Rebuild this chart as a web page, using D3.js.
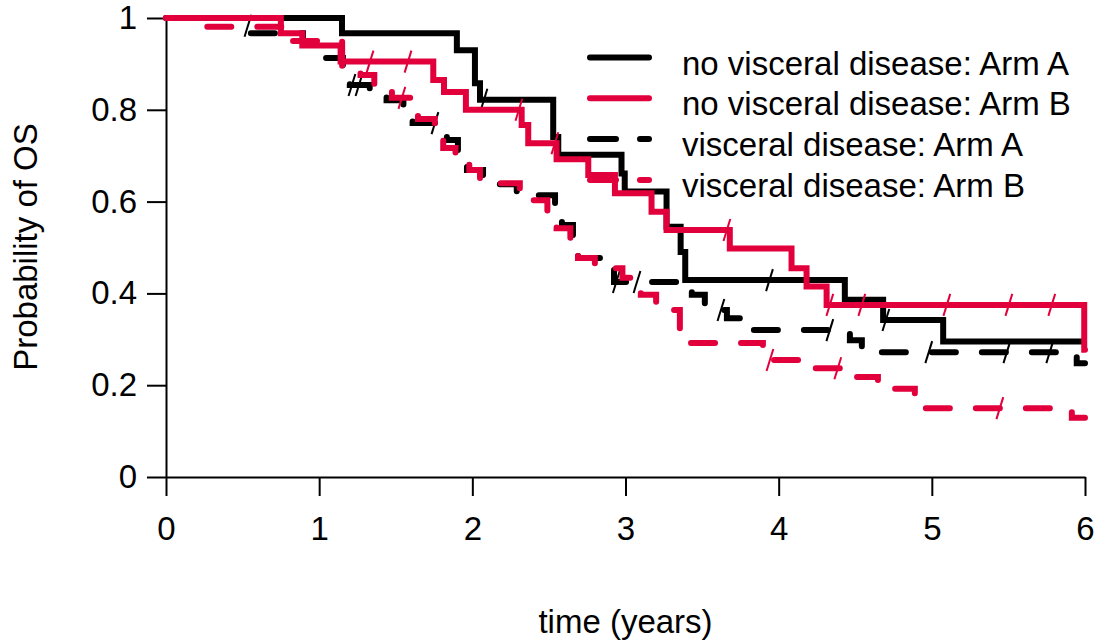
<!DOCTYPE html>
<html>
<head>
<meta charset="utf-8">
<script src="https://cdn.jsdelivr.net/npm/d3@7"></script>
<style>
  body { margin: 0; background: #fff; }
  text { font-family: "Liberation Sans", Arial, sans-serif; }
</style>
</head>
<body>
<div id="chart"></div>
<script>
// Kaplan-Meier steps: time (years) and survival after each step
const noViscA_time = [0, 1.149, 1.899, 2.017, 2.050, 2.528, 2.561, 2.974, 2.995, 3.268, 3.36, 3.39, 4.432, 4.682, 5.074];
const noViscA_surv = [1, 0.967, 0.930, 0.858, 0.822, 0.741, 0.702, 0.661, 0.622, 0.545, 0.49, 0.429, 0.386, 0.342, 0.295];
const noViscA_cens = [2.076, 3.94, 4.70];

const noViscB_time = [0, 0.75, 0.89, 1.14, 1.745, 1.815, 1.958, 2.322, 2.365, 2.550, 2.757, 2.931, 3.170, 3.268, 3.681, 4.084, 4.182, 4.313, 5.995];
const noViscB_surv = [1, 0.967, 0.94, 0.905, 0.865, 0.839, 0.80, 0.767, 0.727, 0.692, 0.658, 0.618, 0.578, 0.538, 0.498, 0.455, 0.415, 0.375, 0.277];
const noViscB_cens = [1.332, 1.58, 2.304, 2.539, 3.662, 4.334, 4.543, 5.098, 5.503, 5.783];

const viscA_time = [0, 0.50, 0.55, 0.894, 1.03, 1.155, 1.20, 1.33, 1.44, 1.55, 1.61, 1.77, 1.834, 1.906, 1.965, 2.07, 2.29, 2.54, 2.585, 2.657, 2.69, 2.846, 2.925, 3.433, 3.518, 3.662, 3.812, 4.465, 4.543, 5.946];
const viscA_surv = [1, 0.983, 0.967, 0.948, 0.913, 0.887, 0.854, 0.839, 0.821, 0.80, 0.771, 0.752, 0.734, 0.697, 0.669, 0.638, 0.614, 0.582, 0.549, 0.512, 0.477, 0.464, 0.425, 0.397, 0.364, 0.346, 0.32, 0.298, 0.272, 0.248];
const viscA_cens = [0.535, 1.214, 1.26, 1.756, 2.94, 3.075, 3.623, 4.334, 4.98, 5.49, 5.77];

const viscB_time = [0, 0.22, 0.81, 1.15, 1.27, 1.36, 1.475, 1.645, 1.755, 1.81, 1.89, 1.98, 2.05, 2.31, 2.40, 2.49, 2.55, 2.64, 2.69, 2.80, 2.98, 3.10, 3.20, 3.355, 3.897, 3.93, 4.138, 4.497, 4.648, 4.889, 5.914];
const viscB_surv = [1, 0.981, 0.95, 0.893, 0.876, 0.848, 0.826, 0.78, 0.752, 0.717, 0.69, 0.669, 0.64, 0.619, 0.603, 0.564, 0.542, 0.51, 0.477, 0.455, 0.434, 0.397, 0.364, 0.292, 0.27, 0.255, 0.237, 0.218, 0.192, 0.150, 0.129];
const viscB_cens = [1.54, 3.943, 4.386, 5.444];

const xTicks = [0, 1, 2, 3, 4, 5, 6];
const yTicks = [0, 0.2, 0.4, 0.6, 0.8, 1];

const BLACK = '#000';
const RED = '#e1003c';
const FONT = '33px';

const width = 1106, height = 643;
const margin = { left: 166, right: 21, top: 18, bottom: 166 };

const groups = [
  { label: 'no visceral disease: Arm A', time: noViscA_time, surv: noViscA_surv, cens: noViscA_cens, end: 5.99, color: BLACK, dashed: false },
  { label: 'no visceral disease: Arm B', time: noViscB_time, surv: noViscB_surv, cens: noViscB_cens, end: 6.0, color: RED, dashed: false },
  { label: 'visceral disease: Arm A', time: viscA_time, surv: viscA_surv, cens: viscA_cens, end: 6.0, color: BLACK, dashed: true },
  { label: 'visceral disease: Arm B', time: viscB_time, surv: viscB_surv, cens: viscB_cens, end: 6.0, color: RED, dashed: true }
];
// blacks underneath, reds on top
const drawOrder = [0, 2, 1, 3];

const svg = d3.select('#chart')
  .append('svg')
  .attr('width', width)
  .attr('height', height)
  .attr('viewBox', `0 0 ${width} ${height}`);

svg.append('rect').attr('width', width).attr('height', height).attr('fill', '#fff');

const x = d3.scaleLinear().domain([0, 6]).range([margin.left, width - margin.right]);
const y = d3.scaleLinear().domain([0, 1]).range([height - margin.bottom, margin.top]);

// Axes
const xAxis = svg.append('g')
  .attr('transform', `translate(0,${y(0)})`)
  .call(d3.axisBottom(x).tickValues(xTicks).tickSize(19).tickSizeOuter(0).tickPadding(21).tickFormat(d3.format('d')));

const yAxis = svg.append('g')
  .attr('transform', `translate(${x(0)},0)`)
  .call(d3.axisLeft(y).tickValues(yTicks).tickSize(19).tickSizeOuter(0).tickPadding(10).tickFormat(d3.format('~g')));

[xAxis, yAxis].forEach(a => {
  a.selectAll('path, line').attr('stroke', '#000').attr('stroke-width', 2);
  a.selectAll('text')
    .attr('fill', '#000')
    .style('font-size', FONT)
    .style('font-family', '"Liberation Sans", Arial, sans-serif');
});

// Axis titles
svg.append('text')
  .attr('x', (x(0) + x(6)) / 2)
  .attr('y', 633)
  .attr('text-anchor', 'middle')
  .attr('font-size', FONT)
  .attr('fill', '#000')
  .text('time (years)');

svg.append('text')
  .attr('transform', `translate(37,${247}) rotate(-90)`)
  .attr('text-anchor', 'middle')
  .attr('font-size', FONT)
  .attr('fill', '#000')
  .text('Probability of OS');

// Curves
const line = d3.line()
  .x(d => x(d[0]))
  .y(d => y(d[1]))
  .curve(d3.curveStepAfter);

const levelAt = (g, t) => g.surv[Math.max(0, d3.bisectRight(g.time, t) - 1)];

drawOrder.forEach(i => {
  const g = groups[i];
  const pts = g.time.map((t, k) => [t, g.surv[k]]);
  pts.push([g.end, g.surv[g.surv.length - 1]]);

  svg.append('path')
    .datum(pts)
    .attr('d', line)
    .attr('fill', 'none')
    .attr('stroke', g.color)
    .attr('stroke-width', 6)
    .attr('stroke-linecap', 'round')
    .attr('stroke-linejoin', 'miter')
    .attr('stroke-dasharray', g.dashed ? '24,26' : null);

  // censoring marks
  svg.append('g')
    .selectAll('line')
    .data(g.cens)
    .join('line')
    .attr('x1', t => x(t) - 3.4)
    .attr('x2', t => x(t) + 3.4)
    .attr('y1', t => y(levelAt(g, t)) + 11)
    .attr('y2', t => y(levelAt(g, t)) - 11)
    .attr('stroke', g.color)
    .attr('stroke-width', 2);
});

// Legend
const legend = svg.append('g').attr('transform', 'translate(590, 57.5)');
groups.forEach((g, i) => {
  const row = legend.append('g').attr('transform', `translate(0, ${i * 40.8})`);
  row.append('line')
    .attr('x1', 0).attr('x2', 59)
    .attr('y1', 0).attr('y2', 0)
    .attr('stroke', g.color)
    .attr('stroke-width', 6)
    .attr('stroke-linecap', 'round')
    .attr('stroke-dasharray', g.dashed ? '26,24' : null);
  row.append('text')
    .attr('x', 92)
    .attr('y', 17)
    .attr('font-size', FONT)
    .attr('fill', '#000')
    .text(g.label);
});
</script>
</body>
</html>
